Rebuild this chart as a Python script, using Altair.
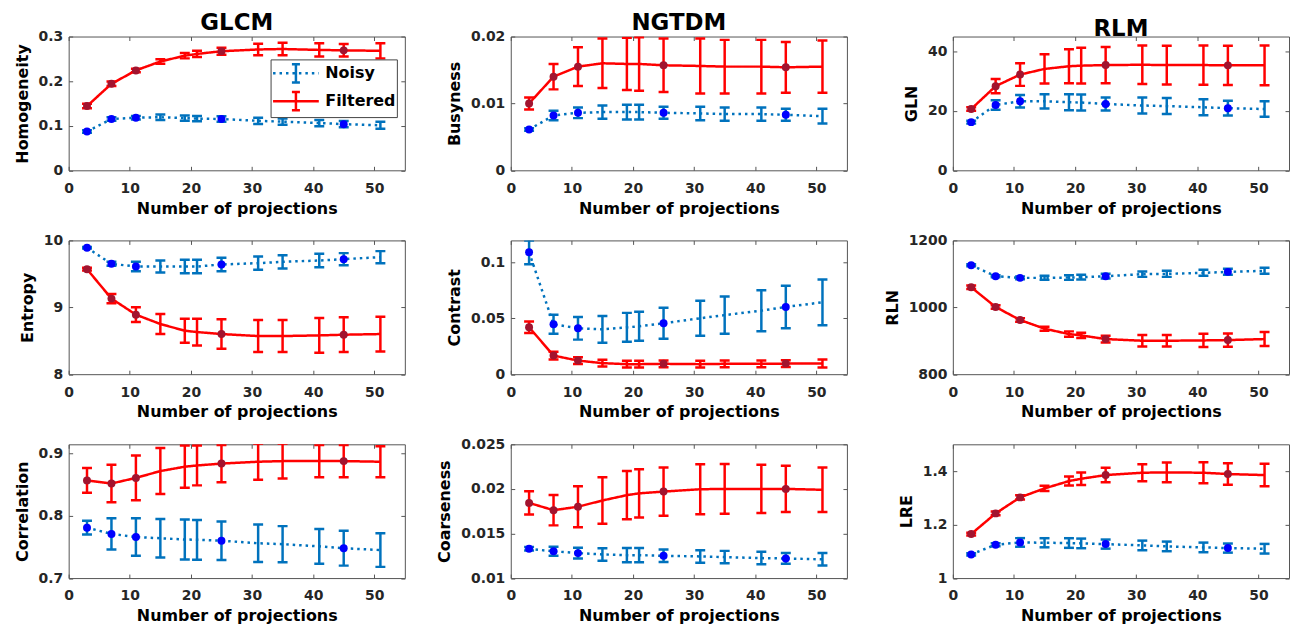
import altair as alt
import pandas as pd

# ---------------- data ----------------
X = [3, 7, 11, 15, 19, 21, 25, 31, 35, 41, 45, 51]
MARK_X = [3, 7, 11, 25, 45]
X_TICKS = [0, 10, 20, 30, 40, 50]
SERIES = ["Noisy", "Filtered"]
TITLES = ["GLCM", "NGTDM", "RLM"]

HOM_F = [0.144, 0.194, 0.224, 0.244, 0.257, 0.261, 0.267, 0.271, 0.272, 0.270, 0.269, 0.268]
HOM_FE = [0.005, 0.005, 0.004, 0.005, 0.006, 0.007, 0.008, 0.013, 0.014, 0.015, 0.014, 0.017]
HOM_N = [0.087, 0.115, 0.118, 0.119, 0.117, 0.116, 0.115, 0.111, 0.109, 0.106, 0.1035, 0.101]
HOM_NE = [0.003, 0.004, 0.004, 0.006, 0.006, 0.006, 0.006, 0.007, 0.007, 0.007, 0.007, 0.008]

BUS_F = [0.0100, 0.0140, 0.0155, 0.0160, 0.0159, 0.0159, 0.0157, 0.0156, 0.0155, 0.0155, 0.0154, 0.0155]
BUS_FE = [0.0009, 0.0019, 0.0029, 0.0037, 0.0039, 0.0040, 0.0040, 0.0041, 0.0040, 0.0040, 0.0038, 0.0039]
BUS_N = [0.0061, 0.0082, 0.0086, 0.0087, 0.0087, 0.0087, 0.0086, 0.0085, 0.0084, 0.0084, 0.0083, 0.0081]
BUS_NE = [0.0002, 0.0007, 0.0008, 0.0010, 0.0011, 0.0011, 0.0009, 0.0010, 0.0010, 0.0010, 0.0009, 0.0011]

GLN_F = [20.6, 28.3, 32.2, 34.1, 35.0, 35.2, 35.4, 35.5, 35.4, 35.4, 35.3, 35.3]
GLN_FE = [0.6, 2.4, 3.8, 4.9, 5.7, 6.0, 6.1, 6.5, 6.5, 6.6, 6.6, 6.7]
GLN_N = [16.2, 22.0, 23.2, 23.2, 22.9, 22.8, 22.3, 21.8, 21.6, 21.2, 20.9, 20.6]
GLN_NE = [0.5, 1.6, 2.1, 2.4, 2.7, 2.7, 2.2, 2.7, 2.7, 2.7, 2.5, 2.6]

ENT_F = [9.57, 9.13, 8.89, 8.75, 8.65, 8.63, 8.60, 8.57, 8.57, 8.58, 8.59, 8.60]
ENT_FE = [0.02, 0.07, 0.11, 0.15, 0.18, 0.20, 0.22, 0.24, 0.24, 0.26, 0.26, 0.26]
ENT_N = [9.89, 9.65, 9.61, 9.61, 9.61, 9.61, 9.64, 9.66, 9.68, 9.70, 9.72, 9.75]
ENT_NE = [0.01, 0.03, 0.07, 0.09, 0.10, 0.10, 0.10, 0.10, 0.10, 0.10, 0.09, 0.09]

CON_F = [0.0421, 0.0167, 0.0122, 0.0099, 0.0090, 0.0090, 0.0093, 0.0090, 0.0093, 0.0093, 0.0095, 0.0096]
CON_FE = [0.0052, 0.0035, 0.0030, 0.0030, 0.0030, 0.0030, 0.0030, 0.0030, 0.0030, 0.0030, 0.0030, 0.0035]
CON_N = [0.1093, 0.0448, 0.0412, 0.0403, 0.0420, 0.0430, 0.0457, 0.0502, 0.0530, 0.0570, 0.0603, 0.0645]
CON_NE = [0.0107, 0.0086, 0.0102, 0.0120, 0.0130, 0.0130, 0.0140, 0.0157, 0.0167, 0.0184, 0.0190, 0.0205]

RLN_F = [1060, 1001, 962, 936, 920, 916, 905, 900, 900, 901, 902, 905]
RLN_FE = [5, 5, 5, 6, 8, 8, 10, 17, 17, 20, 20, 21]
RLN_N = [1126, 1093, 1088, 1088, 1089, 1090, 1093, 1099, 1100, 1103, 1106, 1109]
RLN_NE = [3, 3, 4, 6, 7, 7, 7, 8, 9, 9, 9, 9]

COR_F = [0.857, 0.852, 0.861, 0.872, 0.879, 0.881, 0.884, 0.887, 0.888, 0.888, 0.888, 0.887]
COR_FE = [0.020, 0.030, 0.036, 0.037, 0.034, 0.032, 0.030, 0.029, 0.028, 0.026, 0.026, 0.025]
COR_N = [0.781, 0.771, 0.766, 0.764, 0.762, 0.7615, 0.760, 0.756, 0.7545, 0.751, 0.748, 0.745]
COR_NE = [0.011, 0.025, 0.030, 0.031, 0.032, 0.032, 0.031, 0.030, 0.029, 0.028, 0.028, 0.027]

COA_F = [0.01843, 0.01761, 0.0180, 0.0187, 0.0193, 0.0195, 0.0197, 0.01996, 0.0200, 0.0200, 0.0200, 0.0199]
COA_FE = [0.0013, 0.0017, 0.0023, 0.0026, 0.0027, 0.0027, 0.0027, 0.0028, 0.0028, 0.0027, 0.0026, 0.0025]
COA_N = [0.01328, 0.0130, 0.0128, 0.01265, 0.01257, 0.01257, 0.0125, 0.01243, 0.01235, 0.01224, 0.0122, 0.0121]
COA_NE = [0.0002, 0.0005, 0.0006, 0.0007, 0.0008, 0.0008, 0.0007, 0.0007, 0.0007, 0.0007, 0.0006, 0.0007]

LRE_F = [1.1645, 1.2418, 1.3016, 1.3352, 1.3626, 1.3713, 1.385, 1.3938, 1.395, 1.3938, 1.3888, 1.385]
LRE_FE = [0.005, 0.007, 0.008, 0.010, 0.017, 0.023, 0.027, 0.032, 0.037, 0.039, 0.040, 0.042]
LRE_N = [1.0885, 1.1246, 1.1333, 1.132, 1.131, 1.1296, 1.127, 1.122, 1.1184, 1.1146, 1.1121, 1.1097]
LRE_NE = [0.004, 0.006, 0.016, 0.017, 0.018, 0.018, 0.017, 0.018, 0.018, 0.018, 0.017, 0.018]

PANELS = [
    ("Homogeneity", [0, 0.3], [0, 0.1, 0.2, 0.3], HOM_N, HOM_NE, HOM_F, HOM_FE),
    ("Busyness", [0, 0.02], [0, 0.01, 0.02], BUS_N, BUS_NE, BUS_F, BUS_FE),
    ("GLN", [0, 45], [0, 20, 40], GLN_N, GLN_NE, GLN_F, GLN_FE),
    ("Entropy", [8, 10], [8, 9, 10], ENT_N, ENT_NE, ENT_F, ENT_FE),
    ("Contrast", [0, 0.12], [0, 0.05, 0.1], CON_N, CON_NE, CON_F, CON_FE),
    ("RLN", [800, 1200], [800, 1000, 1200], RLN_N, RLN_NE, RLN_F, RLN_FE),
    ("Correlation", [0.7, 0.915], [0.7, 0.8, 0.9], COR_N, COR_NE, COR_F, COR_FE),
    ("Coarseness", [0.01, 0.025], [0.01, 0.015, 0.02, 0.025], COA_N, COA_NE, COA_F, COA_FE),
    ("LRE", [1, 1.5], [1, 1.2, 1.4], LRE_N, LRE_NE, LRE_F, LRE_FE),
]

# ---------------- style ----------------
BLUE = "#0072BD"
RED = "#FF0000"
MBLUE = "#0000FF"
MRED = "#A2142F"
FONT = "DejaVu Sans"
W, H = 338, 134.5
DOT = [2.5, 4]
FMT = ".4~g"


def pieces(x1, y1, x2, y2, n):
    # short sub-paths so a dash pattern (restarting per sub-path) leaves them solid
    out = []
    for k in range(n):
        a = k / n
        b = (k + 1) / n
        out.append("M{:.3f},{:.3f}L{:.3f},{:.3f}".format(
            x1 + (x2 - x1) * a, y1 + (y2 - y1) * a, x1 + (x2 - x1) * b, y1 + (y2 - y1) * b))
    return "".join(out)


HB = 0.8
LEGEND_PATH = ("M-1,0H3" + pieces(1, -HB, 1, HB, 10)
               + pieces(0.65, -HB, 1.35, -HB, 4) + pieces(0.65, HB, 1.35, HB, 4))


def make_panel(i, spec):
    ylabel, ydom, yticks, nm, ne, fm, fe = spec
    rows = []
    for s, m, e in [("Noisy", nm, ne), ("Filtered", fm, fe)]:
        for xi, mi, ei in zip(X, m, e):
            rows.append(dict(x=xi, series=s, mean=mi, lo=mi - ei, hi=mi + ei,
                             marker=int(xi in MARK_X)))
    df = pd.DataFrame(rows)
    xs = alt.Scale(domain=[0, 55], nice=False, zero=False)
    ys = alt.Scale(domain=ydom, nice=False, zero=False)
    base = alt.Chart(df)
    xn = alt.X("x:Q", scale=xs, axis=None)

    leg = None
    if i == 0:
        leg = alt.Legend(
            title=None, orient="none", legendX=203, legendY=23, direction="vertical",
            symbolType=LEGEND_PATH, symbolSize=529, symbolStrokeWidth=2.5,
            labelFont=FONT, labelFontSize=16, labelFontWeight="bold", labelColor="black",
            labelOffset=28, fillColor="white", strokeColor="#444444", padding=1, rowPadding=-11,
        )
    line = base.mark_line(strokeWidth=2.5, clip=True).encode(
        x=alt.X("x:Q", scale=xs, axis=alt.Axis(
            orient="bottom", values=X_TICKS, format=FMT, title="Number of projections",
            offset=-4, tickSize=4, labelPadding=11, titlePadding=5, minExtent=0,
            labelFlush=False)),
        y=alt.Y("mean:Q", scale=ys, axis=alt.Axis(
            orient="left", values=yticks, format=FMT, title=ylabel,
            offset=-4, tickSize=4, labelPadding=6, titlePadding=8, minExtent=0,
            labelFlush=False)),
        color=alt.Color("series:N", scale=alt.Scale(domain=SERIES, range=[BLUE, RED]), legend=leg),
        strokeDash=alt.StrokeDash("series:N", scale=alt.Scale(domain=SERIES, range=[DOT, [1, 0]]),
                                  legend=leg),
    )
    frame = base.mark_point(opacity=0).encode(
        x=alt.X("x:Q", scale=xs, axis=alt.Axis(
            orient="top", values=X_TICKS, labels=False, title=None, offset=-4, tickSize=4,
            minExtent=0)),
        y=alt.Y("mean:Q", scale=ys, axis=alt.Axis(
            orient="right", values=yticks, labels=False, title=None, offset=-4, tickSize=4,
            minExtent=0)),
    )
    bars, dots = [], []
    for s, col, mcol in [("Noisy", BLUE, MBLUE), ("Filtered", RED, MRED)]:
        sub = base.transform_filter(alt.datum.series == s)
        bars.append(sub.mark_rule(strokeWidth=2.5, color=col, clip=True).encode(
            x=xn, y=alt.Y("lo:Q", scale=ys, axis=None), y2="hi:Q"))
        for f in ["lo", "hi"]:
            bars.append(sub.mark_rule(strokeWidth=2.5, color=col, xOffset=-5, x2Offset=5,
                                      clip=True).encode(
                x=xn, x2="x:Q", y=alt.Y(f"{f}:Q", scale=ys, axis=None)))
        dots.append(sub.transform_filter(alt.datum.marker == 1).mark_circle(
            size=64, color=mcol, opacity=1).encode(
            x=xn, y=alt.Y("mean:Q", scale=ys, axis=None)))
    props = dict(width=W, height=H)
    if i < 3:
        props["title"] = alt.TitleParams(text=TITLES[i], fontSize=23, fontWeight="bold",
                                         font=FONT, color="black", anchor="middle", offset=-5)
    return alt.layer(line, *bars, *dots, frame).resolve_axis(
        x="independent", y="independent").properties(**props)


panels = [make_panel(i, p) for i, p in enumerate(PANELS)]

chart = alt.concat(*panels, columns=3, spacing={"row": 70, "column": 106.5}, bounds="flush").resolve_scale(
    color="independent", strokeDash="independent"
).properties(
    padding={"left": 5, "top": 1, "right": 0, "bottom": 0}
).configure(font=FONT).configure_view(
    stroke="#555555", strokeWidth=1
).configure_axis(
    labelFont=FONT, labelFontSize=14, labelFontWeight="bold", labelColor="#262626",
    titleFont=FONT, titleFontSize=16, titleFontWeight="bold", titleColor="#000000",
    tickColor="#555555", tickWidth=1, grid=False, domain=False
).configure_title(font=FONT, fontSize=23, fontWeight="bold", color="#000000")

chart.save("out.html", embed_options={"renderer": "svg", "actions": False})
